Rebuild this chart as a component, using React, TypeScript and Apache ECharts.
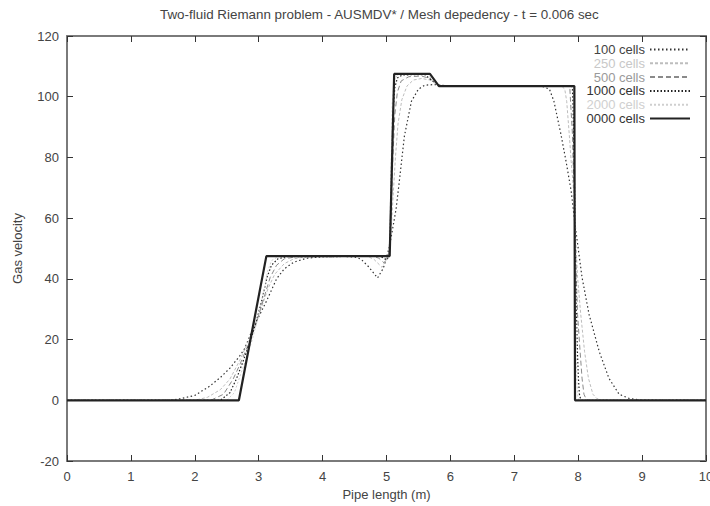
import React, { useEffect, useRef } from "react";
import * as echarts from "echarts";

const FONT = "'Liberation Sans', Arial, Helvetica, sans-serif";

const titleText = "Two-fluid Riemann problem - AUSMDV* / Mesh depedency - t = 0.006 sec";
const xAxisName = "Pipe length (m)";
const yAxisName = "Gas velocity";

const seriesNames = ["100 cells", "250 cells", "500 cells", "1000 cells", "2000 cells", "0000 cells"];

const cells100 = [
  [0, 0], [1.6, 0], [1.77, 0.5], [2.0, 1.6], [2.23, 4.6], [2.4, 7.5], [2.55, 10.6], [2.7, 14.5],
  [2.78, 17], [2.89, 22.7], [3.0, 27.5], [3.12, 32.6], [3.28, 40], [3.4, 43.3], [3.55, 45.5],
  [3.75, 46.8], [4.0, 47.3], [4.3, 47.4], [4.5, 47.2], [4.6, 46.5], [4.72, 44], [4.86, 40.3],
  [4.95, 43.5], [5.0, 47], [5.05, 51], [5.1, 57], [5.15, 63], [5.2, 72], [5.28, 87], [5.39, 98.5],
  [5.5, 102.5], [5.6, 103.8], [5.75, 104], [5.9, 103.7], [6.1, 103.5], [7.3, 103.5], [7.45, 103.3],
  [7.55, 102.5], [7.62, 98.5], [7.73, 87.6], [7.81, 78.7], [7.89, 68.9], [7.95, 58], [8.06, 40.5],
  [8.17, 28.3], [8.33, 16], [8.48, 7.3], [8.64, 2], [8.8, 0.6], [9.0, 0], [10, 0],
];

const cells250 = [
  [0, 0], [2.0, 0], [2.2, 1], [2.4, 3.5], [2.55, 7], [2.7, 13], [2.85, 20], [2.95, 25.5],
  [3.05, 31], [3.15, 37], [3.25, 41.5], [3.4, 45], [3.55, 46.6], [3.75, 47.3], [4.0, 47.4],
  [4.7, 47.4], [4.8, 46.5], [4.93, 43.8], [5.0, 46.5], [5.04, 49], [5.07, 55], [5.1, 66],
  [5.14, 80], [5.18, 91], [5.24, 99], [5.32, 103.5], [5.42, 105.5], [5.55, 106], [5.68, 105.5],
  [5.8, 104], [5.95, 103.6], [6.2, 103.5], [7.69, 103.5], [7.75, 103.3], [7.79, 102.5],
  [7.82, 98.5], [7.86, 87.6], [7.89, 78.7], [7.93, 68.9], [7.95, 58], [7.99, 40.5], [8.04, 28.3],
  [8.1, 16], [8.16, 7.3], [8.23, 2], [8.29, 0.6], [8.37, 0], [10, 0],
];

const cells500 = [
  [0, 0], [2.25, 0], [2.45, 2], [2.6, 7], [2.7, 11.5], [2.8, 16.5], [2.9, 21.5], [3.0, 28],
  [3.1, 35], [3.18, 40.5], [3.28, 44.5], [3.4, 46.6], [3.6, 47.3], [4.8, 47.4], [4.88, 46.8],
  [4.96, 45.3], [5.02, 46.8], [5.05, 50], [5.07, 60], [5.1, 80], [5.13, 94], [5.17, 101.5],
  [5.23, 105.2], [5.35, 106.6], [5.55, 106.8], [5.68, 106], [5.8, 104], [5.9, 103.5],
  [7.82, 103.5], [7.85, 103.3], [7.87, 102.5], [7.88, 98.5], [7.91, 87.6], [7.92, 78.7],
  [7.94, 68.9], [7.95, 58], [7.97, 40.5], [7.99, 28.3], [8.03, 16], [8.06, 7.3], [8.09, 2],
  [8.12, 0.6], [8.16, 0], [10, 0],
];

const cells1000 = [
  [0, 0], [2.4, 0], [2.55, 2.5], [2.65, 7], [2.75, 12.5], [2.85, 18.5], [2.95, 25], [3.05, 33],
  [3.13, 40.5], [3.2, 44.5], [3.3, 46.6], [3.45, 47.3], [4.9, 47.4], [4.96, 46.8], [5.0, 46.2],
  [5.04, 47.5], [5.06, 58], [5.08, 78], [5.1, 94], [5.13, 103], [5.17, 106.2], [5.25, 107.2],
  [5.6, 107.3], [5.7, 105.5], [5.82, 103.7], [5.9, 103.5], [7.885, 103.5], [7.9, 103.3],
  [7.91, 102.5], [7.917, 98.5], [7.928, 87.6], [7.936, 78.7], [7.944, 68.9], [7.95, 58],
  [7.961, 40.5], [7.972, 28.3], [7.988, 16], [8.003, 7.3], [8.019, 2], [8.035, 0.6],
  [8.055, 0], [10, 0],
];

const cells2000 = [
  [0, 0], [2.5, 0], [2.62, 2.5], [2.7, 7.5], [2.8, 13.5], [2.9, 20], [3.0, 28], [3.08, 36],
  [3.14, 42.5], [3.2, 46], [3.3, 47.3], [4.97, 47.4], [5.01, 46.8], [5.045, 47.8], [5.07, 75],
  [5.09, 98], [5.12, 105.5], [5.18, 107.4], [5.65, 107.4], [5.75, 104.5], [5.85, 103.5],
  [7.92, 103.5], [7.93, 101], [7.94, 85], [7.95, 58], [7.96, 35], [7.97, 16], [7.98, 6],
  [7.995, 1], [8.01, 0], [10, 0],
];

const cells10000 = [
  [0, 0], [2.69, 0], [3.12, 47.5], [5.05, 47.5], [5.12, 107.5], [5.68, 107.5], [5.82, 103.5],
  [7.94, 103.5], [7.95, 0], [10, 0],
];

const seriesData = [cells100, cells250, cells500, cells1000, cells2000, cells10000];
const lineColors = ["#333333", "#bdbdbd", "#8a8a8a", "#222222", "#cfcfcf", "#222222"];
const lineTypes: any[] = [[1.5, 2.5], [3, 2], [5, 3], [1.5, 2], [2, 2], "solid"];
const lineWidths = [1.2, 1, 1, 1.2, 1, 2.2];
const legendTextColors = ["#444444", "#c8c8c8", "#9a9a9a", "#333333", "#d0d0d0", "#333333"];

export default function App() {
  const ref = useRef<HTMLDivElement>(null);
  useEffect(() => {
    if (!ref.current) return;
    const chart = echarts.init(ref.current, null, { renderer: "svg" });
    const axisLine = { show: true, onZero: false, lineStyle: { color: "#7a7a7a", width: 2 } };
    const tick = { show: true, inside: true, length: 6, lineStyle: { color: "#333", width: 1 } };
    const labelStyle = { fontFamily: FONT, fontSize: 13, color: "#444" };
    chart.setOption({
      animation: false,
      backgroundColor: "#ffffff",
      title: {
        text: titleText,
        left: 155,
        top: 3,
        textStyle: { fontFamily: FONT, fontSize: 13.4, fontWeight: "normal", color: "#444" },
      },
      grid: { left: 67, right: 4, top: 36, bottom: 45, containLabel: false, outerBoundsMode: "none" },
      legend: {
        orient: "vertical",
        right: 14,
        top: 38,
        align: "right",
        itemWidth: 40,
        itemHeight: 12,
        itemGap: 0.8,
        itemStyle: { color: "rgba(0,0,0,0)", borderColor: "rgba(0,0,0,0)", borderWidth: 0, opacity: 0 },
        textStyle: { fontFamily: FONT, fontSize: 13 },
        data: seriesNames.map((n, i) => ({ name: n, textStyle: { color: legendTextColors[i] } })),
      },
      xAxis: [
        {
          type: "value",
          min: 0,
          max: 10,
          interval: 1,
          name: xAxisName,
          nameLocation: "middle",
          nameGap: 27,
          nameTextStyle: labelStyle,
          axisLine,
          axisTick: tick,
          axisLabel: { ...labelStyle, margin: 9 },
          splitLine: { show: false },
        },
        {
          type: "value",
          position: "top",
          min: 0,
          max: 10,
          interval: 1,
          axisLine,
          axisTick: tick,
          axisLabel: { show: false },
          splitLine: { show: false },
        },
      ],
      yAxis: [
        {
          type: "value",
          min: -20,
          max: 120,
          interval: 20,
          name: yAxisName,
          nameLocation: "middle",
          nameGap: 43,
          nameTextStyle: labelStyle,
          axisLine,
          axisTick: tick,
          axisLabel: { ...labelStyle, margin: 8 },
          splitLine: { show: false },
        },
        {
          type: "value",
          position: "right",
          min: -20,
          max: 120,
          interval: 20,
          axisLine,
          axisTick: tick,
          axisLabel: { show: false },
          splitLine: { show: false },
        },
      ],
      series: seriesData.map((d, i) => ({
        name: seriesNames[i],
        type: "line",
        data: d,
        xAxisIndex: 0,
        yAxisIndex: 0,
        symbol: "none",
        showSymbol: false,
        smooth: false,
        lineStyle: { color: lineColors[i], width: lineWidths[i], type: lineTypes[i] },
        itemStyle: { color: lineColors[i] },
        emphasis: { disabled: true },
      })),
    });
    return () => chart.dispose();
  }, []);
  return (
    <div
      ref={ref}
      style={{ position: "fixed", left: 0, top: 0, width: 710, height: 506, background: "#fff" }}
    />
  );
}
